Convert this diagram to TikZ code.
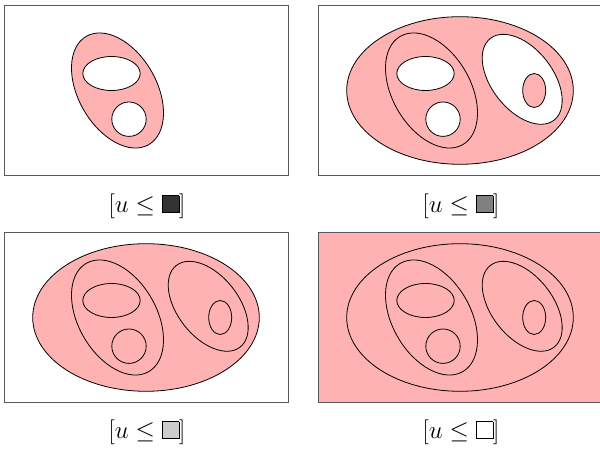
\documentclass[tikz,border=0pt]{standalone}
\usepackage{xcolor}
\definecolor{pinkfill}{RGB}{255,178,178}
\definecolor{frame}{RGB}{90,90,90}
\newcommand\sqbox[1]{{\setlength{\fboxsep}{0pt}\setlength{\fboxrule}{0.6pt}\fcolorbox{black}{#1}{\hbox to 0.58em{\vrule height 0.58em depth 0pt width 0pt\hfil}}}}
\tikzset{
  frm/.style={draw=frame, line width=0.9pt},
  shp/.style={draw=black, line width=0.8pt},
  lab/.style={font=\fontsize{28}{33}\selectfont, inner sep=0pt},
}
% elements, relative to panel top-left (y downward)
\newcommand\outerE[1]{\path[shp,#1] (142,-85.5) ellipse [x radius=113.3, y radius=73.8];}
\newcommand\leftE[1]{\path[shp,#1,shift={(113.5,-85.5)},rotate=30] (0,0) ellipse [x radius=39, y radius=62.5];}
\newcommand\leftI[1]{\path[shp,#1] (107.5,-68.5) ellipse [x radius=28.7, y radius=17];}
\newcommand\leftC[1]{\path[shp,#1] (125,-114.2) circle [radius=17.2];}
\newcommand\rightE[1]{\path[shp,#1,shift={(204.2,-74.3)},rotate=38] (0,0) ellipse [x radius=30.6, y radius=51.8];}
\newcommand\rightI[1]{\path[shp,#1] (216.2,-85.5) ellipse [x radius=11.5, y radius=17];}
\begin{document}
\begin{tikzpicture}[x=1pt,y=1pt]
\useasboundingbox (0,0) rectangle (600,454);
% Panel 1
\begin{scope}[shift={(4,449)}]
  \path[frm, fill=white] (0,0) rectangle (284,-170);
  \leftE{fill=pinkfill}
  \leftI{fill=white}
  \leftC{fill=white}
\end{scope}
% Panel 2
\begin{scope}[shift={(318,449)}]
  \path[frm, fill=white] (0,0) rectangle (284,-170);
  \outerE{fill=pinkfill}
  \leftE{fill=pinkfill}
  \leftI{fill=white}
  \leftC{fill=white}
  \rightE{fill=white}
  \rightI{fill=pinkfill}
\end{scope}
% Panel 3
\begin{scope}[shift={(4,222)}]
  \path[frm, fill=white] (0,0) rectangle (284,-170);
  \outerE{fill=pinkfill}
  \leftE{}
  \leftI{}
  \leftC{}
  \rightE{}
  \rightI{}
\end{scope}
% Panel 4
\begin{scope}[shift={(318,222)}]
  \path[frm, fill=pinkfill] (0,0) rectangle (284,-170);
  \outerE{}
  \leftE{}
  \leftI{}
  \leftC{}
  \rightE{}
  \rightI{}
\end{scope}
\node[lab] (l1) at (147,248) {$[u \leq \sqbox{black!80}]$};
\node[lab] (l2) at (461,248) {$[u \leq \sqbox{black!50}]$};
\node[lab] (l3) at (147,22) {$[u \leq \sqbox{black!20}]$};
\node[lab] (l4) at (461,22) {$[u \leq \sqbox{white}]$};
\end{tikzpicture}
\end{document}
